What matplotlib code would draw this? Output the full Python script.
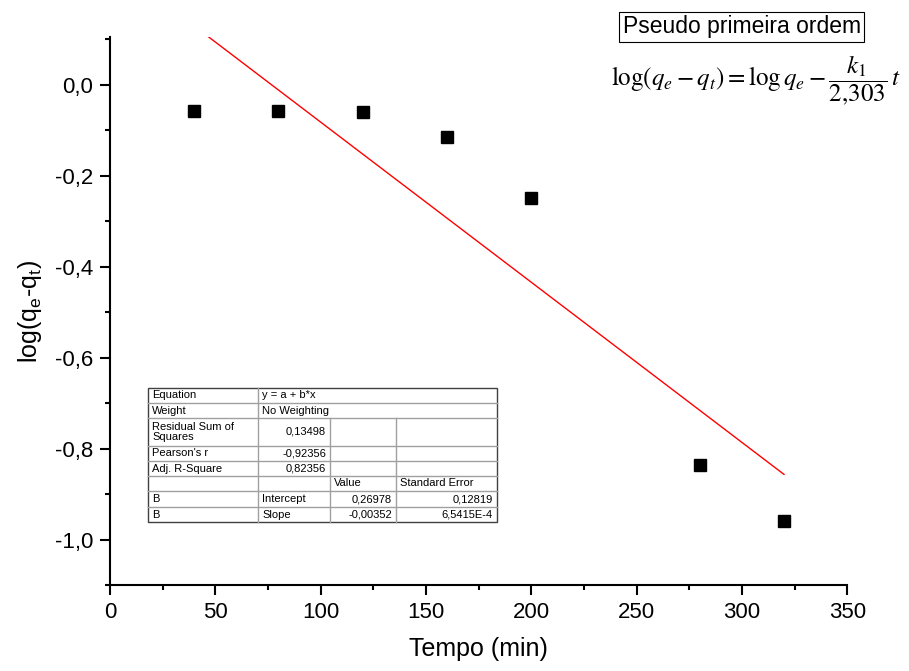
import matplotlib
matplotlib.use("Agg")
import matplotlib.pyplot as plt
from matplotlib.ticker import MultipleLocator, FuncFormatter
import numpy as np

plt.rcParams['font.family'] = ['Liberation Sans', 'DejaVu Sans']

# data
tempo = [40, 80, 120, 160, 200, 280, 320]
log_qe_qt = [-0.057, -0.057, -0.059, -0.114, -0.250, -0.836, -0.958]

# linear fit (from the Origin table)
intercept = 0.26978
slope = -0.00352

table_rows = [
    ["Equation", "y = a + b*x", "", ""],
    ["Weight", "No Weighting", "", ""],
    ["Residual Sum of\nSquares", "0,13498", "", ""],
    ["Pearson's r", "-0,92356", "", ""],
    ["Adj. R-Square", "0,82356", "", ""],
    ["", "", "Value", "Standard Error"],
    ["B", "Intercept", "0,26978", "0,12819"],
    ["B", "Slope", "-0,00352", "6,5415E-4"],
]

fig = plt.figure(figsize=(9.09, 6.71), dpi=100)
ax = fig.add_axes([0.121, 0.128, 0.811, 0.817])

ax.plot(tempo, log_qe_qt, 's', color='black', markersize=8.5, zorder=3)
xfit = np.array([tempo[0], tempo[-1]])
ax.plot(xfit, intercept + slope * xfit, color='red', lw=1.0)

ax.set_xlim(0, 350)
ax.set_ylim(-1.1, 0.105)
ax.spines['top'].set_visible(False)
ax.spines['right'].set_visible(False)
ax.spines['left'].set_linewidth(1.5)
ax.spines['bottom'].set_linewidth(1.5)

ax.xaxis.set_major_locator(MultipleLocator(50))
ax.xaxis.set_minor_locator(MultipleLocator(25))
ax.yaxis.set_major_locator(MultipleLocator(0.2))
ax.yaxis.set_minor_locator(MultipleLocator(0.1))
ax.tick_params(which='major', direction='out', length=7, width=1.5, labelsize=16, pad=5)
ax.tick_params(which='minor', direction='out', length=3.5, width=1.5)
ax.xaxis.set_major_formatter(FuncFormatter(lambda v, p: f"{v:.0f}"))
ax.yaxis.set_major_formatter(FuncFormatter(lambda v, p: f"{v:.1f}".replace('.', ',').replace('-0,0', '0,0')))

ax.set_xlabel("Tempo (min)", fontsize=18, labelpad=10)
ax.set_ylabel(r"log(q$_\mathregular{e}$-q$_\mathregular{t}$)", fontsize=18, labelpad=8)

# title box and equation
fig.text(0.816, 0.960, "Pseudo primeira ordem", fontsize=16.5, ha='center', va='center',
         bbox=dict(boxstyle='square,pad=0.15', fc='white', ec='black', lw=0.8))
fig.text(0.672, 0.881, r'$\log(q_e - q_t) = \log q_e - \dfrac{k_1}{2{,}303}\,t$',
         fontsize=18, ha='left', va='center', math_fontfamily='stix')

# fit results table
col_x = [148, 258, 330, 396, 497]
row_y = [388, 403, 418, 446, 461, 476, 491, 507, 522]
W, H = 909, 671

def fx(px):
    return px / W

def fy(py):
    return 1 - py / H

for y in row_y[1:-1]:
    fig.add_artist(plt.Line2D([fx(col_x[0]), fx(col_x[-1])], [fy(y), fy(y)], color='#a0a0a0', lw=1.0))
for i, x in enumerate(col_x[1:-1]):
    c = i + 1
    r0 = 0 if c == 1 else 2
    fig.add_artist(plt.Line2D([fx(x), fx(x)], [fy(row_y[r0]), fy(row_y[-1])], color='#a0a0a0', lw=1.0))
fig.add_artist(plt.Rectangle((fx(col_x[0]), fy(row_y[-1])), fx(col_x[-1]) - fx(col_x[0]),
                             fy(row_y[0]) - fy(row_y[-1]), fill=False, ec='#404040', lw=1.0))

for r, row in enumerate(table_rows):
    ymid = (row_y[r] + row_y[r + 1]) / 2
    for c, txt in enumerate(row):
        if not txt:
            continue
        left_align = c == 0 or r in (0, 1) or (r >= 6 and c == 1) or (r == 5 and c >= 2)
        if left_align:
            fig.text(fx(col_x[c] + 4), fy(ymid), txt, fontsize=8, ha='left', va='center', linespacing=1.05)
        else:
            fig.text(fx(col_x[c + 1] - 4), fy(ymid), txt, fontsize=8, ha='right', va='center')

fig.savefig("out.png", dpi=100)
